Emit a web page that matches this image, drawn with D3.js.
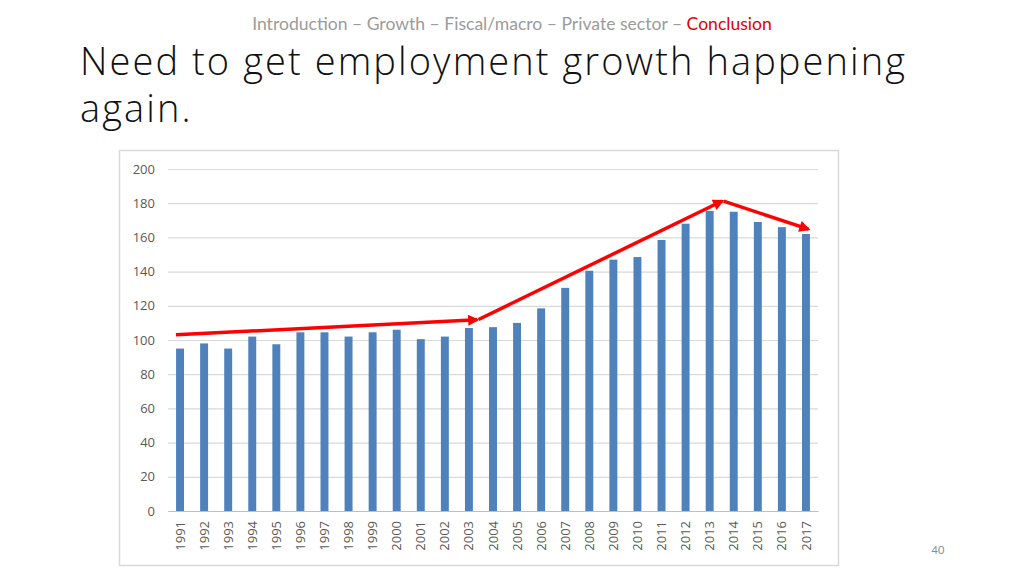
<!DOCTYPE html>
<html>
<head>
<meta charset="utf-8">
<script src="https://cdn.jsdelivr.net/npm/d3@7"></script>
<style>
  html, body { margin: 0; padding: 0; background: #fff; }
  svg { display: block; }
</style>
</head>
<body>
<svg id="c" width="1024" height="576"></svg>
<script>
// ---- data ----
const years = [1991,1992,1993,1994,1995,1996,1997,1998,1999,2000,2001,2002,2003,2004,2005,2006,2007,2008,2009,2010,2011,2012,2013,2014,2015,2016,2017];
const values = [95,98,95,102,97.5,104.5,104.5,102,104.5,106,100.5,102,107,107.5,110,118.5,130.5,140.5,147,148.5,158.5,168,175.5,175,169,166,162];
const yTicks = [0,20,40,60,80,100,120,140,160,180,200];
// trend arrows: [fractional year, value] pairs
const arrows = [
  [[1990.83, 103], [2003.34, 111.8]],
  [[2003.4, 112], [2013.52, 181.3]],
  [[2013.58, 181.2], [2017.1, 164.8]]
];
const headerParts = ["Introduction – Growth – Fiscal/macro – Private sector – ", "Conclusion"];
const titleLines = ["Need to get employment growth happening", "again."];
const pageNumber = "40";

const svg = d3.select("#c");

// header
const hdr = svg.append("text")
  .attr("x", 512).attr("y", 30)
  .attr("text-anchor", "middle")
  .style("font-family", "Lato, 'Open Sans', sans-serif")
  .style("font-size", "16px");
hdr.append("tspan").attr("fill", "#9b9b9b").text(headerParts[0]);
hdr.append("tspan").attr("fill", "#e00000").text(headerParts[1]);
(function fit(){
  const w = hdr.node().getComputedTextLength();
  hdr.style("font-size", (16 * 520 / w) + "px");
})();

// title
const title = svg.append("text")
  .style("font-family", "'Open Sans', 'Noto Sans', sans-serif")
  .style("font-weight", 300)
  .style("font-size", "38px")
  .attr("fill", "#111");
title.selectAll("tspan").data(titleLines).join("tspan")
  .attr("x", 80).attr("y", (d, i) => 75 + i * 47)
  .text(d => d);
(function fitTitle(){
  const first = title.select("tspan");
  const w = first.node().getComputedTextLength();
  const n = titleLines[0].length;
  title.style("letter-spacing", ((825 - w) / (n - 1)) + "px");
})();

// chart frame
svg.append("rect")
  .attr("x", 119.5).attr("y", 150.5)
  .attr("width", 719).attr("height", 415)
  .attr("fill", "#fff").attr("stroke", "#d9d9d9").attr("stroke-width", 1.5);

const plot = {left: 168, right: 818, top: 169, bottom: 511};

const x = d3.scaleBand().domain(years).range([plot.left, plot.right]).paddingInner(0.67).paddingOuter(0.335);
const y = d3.scaleLinear().domain([0, 200]).range([plot.bottom, plot.top]);
const xc = d3.scaleLinear()
  .domain([years[0], years[years.length - 1]])
  .range([x(years[0]) + x.bandwidth() / 2, x(years[years.length - 1]) + x.bandwidth() / 2]);

// gridlines
const gy = svg.append("g").attr("transform", `translate(${plot.left},0)`)
  .call(d3.axisLeft(y).tickValues(yTicks).tickSize(-(plot.right - plot.left)).tickFormat(d => d).tickPadding(13));
gy.select(".domain").remove();
gy.selectAll(".tick line").attr("stroke", "#d9d9d9").attr("stroke-width", 1.2);
gy.selectAll(".tick text")
  .attr("fill", "#595959")
  .style("font-family", "'Open Sans', Lato, sans-serif")
  .style("font-size", "13px");

// bars
svg.append("g").selectAll("rect").data(years).join("rect")
  .attr("x", d => x(d))
  .attr("width", x.bandwidth())
  .attr("y", (d, i) => y(values[i]))
  .attr("height", (d, i) => y(0) - y(values[i]))
  .attr("fill", "#4f81bd");

// x axis
const gx = svg.append("g").attr("transform", `translate(0,${plot.bottom})`)
  .call(d3.axisBottom(x).tickSize(0).tickPadding(0));
gx.select(".domain").attr("stroke", "#bfbfbf").attr("stroke-width", 1.2);
gx.selectAll(".tick text")
  .attr("fill", "#595959")
  .style("font-family", "'Open Sans', Lato, sans-serif")
  .style("font-size", "13px")
  .attr("text-anchor", "end")
  .attr("transform", "rotate(-90)")
  .attr("x", -10).attr("y", 0).attr("dy", "0.35em");

// arrows
const defs = svg.append("defs");
defs.append("marker")
  .attr("id", "ah").attr("viewBox", "0 0 10 10")
  .attr("refX", 8).attr("refY", 5)
  .attr("markerWidth", 3.6).attr("markerHeight", 3.2)
  .attr("markerUnits", "strokeWidth")
  .attr("orient", "auto")
  .append("path").attr("d", "M0,0 L10,5 L0,10 Z").attr("fill", "#ff0000");

const line = d3.line().x(d => xc(d[0])).y(d => y(d[1]));
svg.append("g").selectAll("path").data(arrows).join("path")
  .attr("d", line)
  .attr("fill", "none")
  .attr("stroke", "#ff0000")
  .attr("stroke-width", 3.5)
  .attr("marker-end", "url(#ah)");

// page number
svg.append("text")
  .attr("x", 938).attr("y", 554)
  .attr("text-anchor", "middle")
  .attr("fill", "#8c8c8c")
  .style("font-family", "Lato, 'Open Sans', sans-serif")
  .style("font-size", "11px")
  .text(pageNumber);
</script>
</body>
</html>
